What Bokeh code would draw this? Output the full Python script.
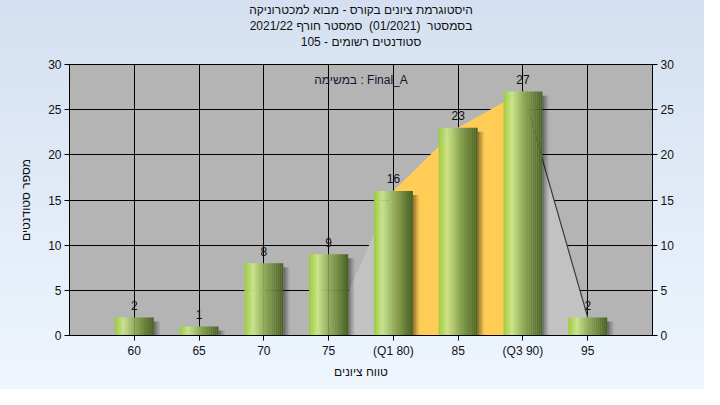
import numpy as np
from bokeh.plotting import figure
from bokeh.models import Range1d, LinearAxis, FixedTicker, Title
from bokeh.embed import file_html
from bokeh.resources import INLINE
from bokeh.core.properties import value

# ---------------- data ----------------
categories = [60, 65, 70, 75, 80, 85, 90, 95]
tick_labels = ["60", "65", "70", "75", "(Q1 80)", "85", "(Q3 90)", "95"]
counts = [2, 1, 8, 9, 16, 23, 27, 2]
range_x = [75, 80, 85, 90, 95]
range_y = [0, 16, 23, 27, 2]
q1, q3 = 80, 90
y_ticks = [0, 5, 10, 15, 20, 25, 30]
title_lines = [
    "היסטוגרמת ציונים בקורס - מבוא למכטרוניקה",
    "בסמסטר\u00a0 (01/2021)\u00a0 סמסטר חורף 2021/22",
    "סטודנטים רשומים - 105",
]
task_text = "במשימה : Final_A"
x_label = "טווח ציונים"
y_label = "מספר סטודנטים"

FONT = "Liberation Sans"
W, H = 704, 389

p = figure(width=W, height=H, output_backend="svg", toolbar_location=None,
           x_range=Range1d(55, 100), y_range=Range1d(0, 30),
           min_border_left=69, min_border_right=52, min_border_top=64,
           min_border_bottom=54)
p.background_fill_color = "#B4B4B4"
p.border_fill_color = None
p.styles = {"background": "linear-gradient(180deg, #d4e0f1 0%, #eef5fd 100%)"}
p.outline_line_color = "black"
p.outline_line_width = 1

# blank spacer between frame and the title lines (innermost panel)
p.add_layout(Title(text="\u00a0", text_font_size="12px", text_font=FONT,
                   text_color="#dde7f5", standoff=0), "above")
# title lines, stacked outward (last line closest to the frame)
for line in reversed(title_lines):
    p.add_layout(Title(text=line, align="center", text_font_size="12px",
                       text_font_style="normal", text_font=FONT,
                       text_color="#111111", standoff=0), "above")

# grids
p.xgrid.ticker = FixedTicker(ticks=categories)
p.ygrid.ticker = FixedTicker(ticks=y_ticks)
for g in (p.xgrid, p.ygrid):
    g.grid_line_color = "black"
    g.grid_line_width = 1
    g.grid_line_alpha = 1.0


def style_axis(ax):
    ax.axis_line_color = "black"
    ax.major_tick_line_color = "black"
    ax.major_tick_out = 5
    ax.major_tick_in = 0
    ax.minor_tick_line_color = None
    ax.major_label_text_font = FONT
    ax.major_label_text_font_size = "12px"
    ax.major_label_text_color = "#111111"
    ax.axis_label_text_font = FONT
    ax.axis_label_text_font_size = "12px"
    ax.axis_label_text_font_style = "normal"
    ax.axis_label_text_color = "#111111"


p.xaxis.ticker = FixedTicker(ticks=categories)
p.xaxis.major_label_overrides = {c: l for c, l in zip(categories, tick_labels)}
p.xaxis.axis_label = x_label
p.xaxis.major_label_standoff = 3
p.xaxis.axis_label_standoff = 4
p.yaxis.ticker = FixedTicker(ticks=y_ticks)
p.yaxis.axis_label = y_label
p.yaxis.major_label_standoff = 3
p.yaxis.axis_label_standoff = 12
style_axis(p.xaxis[0])
style_axis(p.yaxis[0])

ra = LinearAxis(ticker=FixedTicker(ticks=y_ticks))
style_axis(ra)
ra.major_label_standoff = 3
p.add_layout(ra, "right")

# range (min..max) area and inter-quartile area
p.patch(range_x + [range_x[-1]], range_y + [0], fill_color="#C2C2C2",
        line_color=None)
iq = [(c, n) for c, n in zip(categories, counts) if q1 <= c <= q3]
p.varea(x=[c for c, _ in iq], y1=[0] * len(iq), y2=[n for _, n in iq],
        fill_color="#FFCC55")
peak = int(np.argmax(range_y))
p.line(range_x[peak:], range_y[peak:], line_color="#3a3a3a", line_width=1.2)

# bars with horizontal gradient + shadow
bw = 3.0
px = 45.0 / 583.0  # data units per pixel on x
cats = np.array(categories, dtype=float)
cnt = np.array(counts, dtype=float)

# shadow
sh_alpha = [0.42, 0.30, 0.18, 0.08]
for k, a in enumerate(sh_alpha):
    p.vbar(x=cats + bw / 2 + (k + 0.5) * 1.6 * px, width=1.6 * px,
           top=np.maximum(cnt - 0.45, 0), bottom=0,
           fill_color="black", fill_alpha=a, line_color=None)

stops = [(0.0, (155, 203, 58)), (0.22, (201, 229, 140)), (0.55, (138, 165, 84)),
         (1.0, (72, 96, 34))]


def grad(t):
    for (t0, c0), (t1, c1) in zip(stops[:-1], stops[1:]):
        if t0 <= t <= t1:
            f = (t - t0) / (t1 - t0)
            return "#%02x%02x%02x" % tuple(int(round(a + (b - a) * f)) for a, b in zip(c0, c1))
    return "#%02x%02x%02x" % stops[-1][1]


N = 20
for k in range(N):
    t = (k + 0.5) / N
    p.vbar(x=cats - bw / 2 + t * bw, width=bw / N * 1.08, top=cnt, bottom=0,
           fill_color=grad(t), line_color=None)

# value labels
p.text(x=categories, y=counts, text=[str(c) for c in counts],
       text_align="center", text_baseline="alphabetic", y_offset=-12,
       text_font=value(FONT), text_font_size="12px", text_color="#111111")

# task label
p.text(x=[77.5], y=[30], text=[task_text], text_align="center",
       text_baseline="top", y_offset=8, text_font=value(FONT),
       text_font_size="12px", text_color="#1a1030")

open("out.html", "w").write(file_html(p, INLINE))
